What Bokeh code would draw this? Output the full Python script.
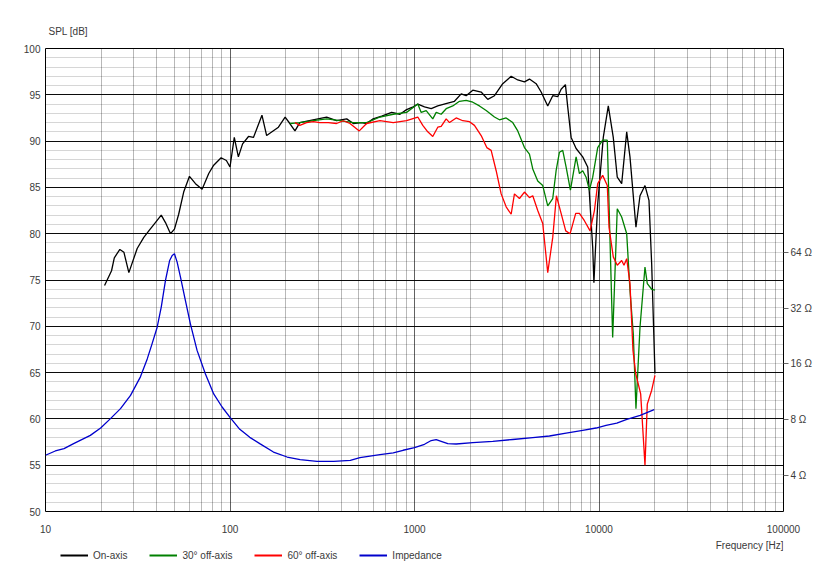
from bokeh.plotting import figure
from bokeh.layouts import column
from bokeh.models import (Range1d, LogScale, LogAxis, FixedTicker, SingleIntervalTicker,
                          Legend, LegendItem, Label)
from bokeh.embed import file_html
from bokeh.resources import INLINE

# ---------------- data ----------------
on_f = [20.9, 22.8, 23.6, 25.3, 26.6, 28.3, 31.4, 34.1, 36.3, 39.4,
        42.4, 44.7, 47.6, 50.0, 52.7, 56.1, 60.3, 65.0, 70.6, 76.7,
        81.6, 89.5, 95.6, 100, 105.5, 111, 117, 126, 134, 149,
        158, 183, 199, 211, 225, 239, 282, 334, 378, 429,
        466, 517, 550, 597, 664, 752, 834, 906, 984, 1042,
        1133, 1232, 1337, 1515, 1647, 1791, 1905, 2070, 2298, 2495,
        2713, 3008, 3341, 3628, 3944, 4198, 4564, 4858, 5274, 5614,
        5972, 6232, 6577, 6768, 7062, 7516, 8160, 8685, 8872, 9246,
        9385, 9562, 9840, 10550, 11230, 11950, 12560, 13270, 14130, 14720,
        15860, 16680, 17750, 18660, 19300, 20110]
on_db = [74.4, 76.0, 77.4, 78.3, 78.0, 75.8, 78.4, 79.6, 80.3, 81.2,
         82.0, 81.2, 80.0, 80.5, 82.1, 84.5, 86.2, 85.4, 84.8, 86.5,
         87.4, 88.2, 87.9, 87.2, 90.4, 88.3, 89.7, 90.5, 90.4, 92.8,
         90.6, 91.5, 92.6, 91.9, 91.1, 92.0, 92.3, 92.6, 92.2, 92.4,
         91.9, 92.0, 91.9, 92.4, 92.7, 93.1, 92.9, 93.4, 93.7, 94.0,
         93.7, 93.5, 93.8, 94.1, 94.3, 95.1, 94.9, 95.5, 95.3, 94.5,
         94.9, 96.2, 97.0, 96.6, 96.4, 96.7, 96.2, 95.3, 93.8, 94.9,
         94.8, 95.6, 96.1, 93.7, 90.4, 89.2, 88.3, 87.2, 84.3, 78.5,
         74.7, 78.2, 83.2, 90.4, 93.8, 90.4, 86.1, 85.4, 91.0, 88.3,
         80.7, 84.1, 85.2, 83.6, 76.7, 64.9]

off30_f = [211, 239, 283, 334, 394, 466, 550, 650, 767, 906,
           1042, 1087, 1157, 1256, 1311, 1395, 1485, 1612, 1753, 1905,
           2070, 2249, 2446, 2713, 2887, 3139, 3408, 3628, 3944, 4198,
           4375, 4655, 4955, 5274, 5614, 5855, 6103, 6360, 6635, 7000,
           7516, 7832, 8160, 8513, 8872, 9246, 9840, 10470, 11090, 11860,
           12560, 13270, 14130, 14720, 15340, 15860, 16680, 17750, 18270, 19300,
           20110]
off30_db = [91.9, 92.0, 92.2, 92.4, 92.2, 92.0, 92.0, 92.6, 92.9, 93.1,
            94.0, 93.1, 93.3, 92.4, 93.1, 92.9, 93.5, 93.8, 94.3, 94.4,
            94.2, 93.8, 93.3, 92.6, 92.3, 92.5, 92.0, 91.1, 89.3, 88.6,
            87.0, 85.7, 85.2, 83.0, 83.8, 86.8, 88.8, 89.0, 87.2, 84.7,
            88.3, 86.5, 86.8, 86.1, 84.7, 86.1, 89.3, 90.1, 90.1, 68.8,
            82.7, 81.8, 80.0, 73.9, 69.2, 61.1, 69.9, 76.4, 74.6, 74.0,
            73.9]

off60_f = [225, 239, 260, 283, 307, 341, 378, 411, 447, 502,
           550, 650, 767, 906, 1042, 1109, 1180, 1256, 1337, 1395,
           1485, 1548, 1682, 1827, 1986, 2113, 2298, 2465, 2603, 2771,
           2949, 3139, 3341, 3481, 3706, 3944, 4198, 4375, 4655, 4955,
           5274, 5614, 5877, 6232, 6601, 6973, 7478, 7832, 8335, 8949,
           9443, 9840, 10470, 11090, 11330, 11950, 12560, 13270, 13660, 14130,
           14720, 15280, 15810, 16820, 17750, 18270, 19300, 20110]
off60_db = [92.0, 91.7, 92.0, 92.1, 92.0, 92.0, 91.9, 92.2, 91.9, 91.1,
            91.9, 92.2, 92.0, 92.2, 92.6, 91.7, 91.0, 90.5, 91.5, 91.6,
            92.4, 92.0, 92.5, 92.2, 92.1, 91.7, 90.6, 89.3, 89.0, 86.8,
            84.3, 82.9, 82.1, 84.3, 83.8, 84.5, 83.9, 84.1, 82.5, 81.1,
            75.8, 79.6, 84.1, 82.2, 80.3, 80.0, 82.2, 82.2, 81.4, 80.3,
            82.5, 85.4, 86.3, 85.2, 80.7, 77.5, 76.6, 77.1, 76.6, 77.3,
            74.6, 67.4, 64.9, 62.7, 55.0, 61.6, 63.1, 64.7]

imp_f = [10, 11.3, 12.6, 14.2, 17.5, 19.9, 22.5, 25.5, 28.9, 32.7,
         35.6, 37.8, 40.3, 42.4, 44.7, 47.1, 48.6, 50.0, 51.7, 53.9,
         57.3, 61.0, 66.3, 73.6, 81.6, 90.6, 100, 113, 128, 145,
         172, 204, 240, 296, 365, 449, 506, 650, 767, 867,
         1000, 1133, 1232, 1311, 1395, 1515, 1682, 2070, 2656, 3408,
         4375, 5387, 6635, 8160, 9634, 10920, 12490, 14150, 16720, 19900]
imp_ohm = [5.13, 5.41, 5.57, 5.93, 6.57, 7.2, 8.09, 9.16, 10.8, 13.6,
           17.0, 20.5, 25.2, 32.4, 45.1, 57.8, 61.5, 62.8, 56.6, 47.0,
           35.2, 26.3, 18.9, 14.1, 11.0, 9.35, 8.22, 7.08, 6.41, 5.93,
           5.34, 5.02, 4.86, 4.76, 4.76, 4.82, 4.98, 5.17, 5.28, 5.46,
           5.64, 5.88, 6.16, 6.23, 6.10, 5.93, 5.90, 6.0, 6.10, 6.24,
           6.39, 6.52, 6.76, 7.0, 7.2, 7.44, 7.66, 8.02, 8.43, 9.05]

series_names = ["On-axis", "30\u00b0 off-axis", "60\u00b0 off-axis", "Impedance"]
freq_ticks = [10, 100, 1000, 10000, 100000]
freq_tick_labels = ["10", "100", "1000", "10000", "100000"]
imp_ticks = [4, 8, 16, 32, 64]
imp_tick_labels = ["4 \u03a9", "8 \u03a9", "16 \u03a9", "32 \u03a9", "64 \u03a9"]
y_title = "SPL [dB]"
x_title = "Frequency [Hz]"

# ---------------- styling / layout ----------------
SPL_MIN, SPL_MAX = 50, 100
IMP_OFFSET_DB = 41.87          # 20*log10(Z) + offset = SPL position
FONT = "Liberation Sans"
TXT = "#3a3a3a"
colors = ["#000000", "#008000", "#ff0000", "#0000cc"]
W = 819
NAN = float("nan")

p = figure(width=W, height=539, x_axis_type="log",
           x_range=Range1d(freq_ticks[0], freq_ticks[-1]),
           y_range=Range1d(SPL_MIN, SPL_MAX),
           output_backend="svg", toolbar_location=None,
           min_border_left=45, min_border_right=36,
           min_border_top=48, min_border_bottom=28)
p.outline_line_color = "black"
p.outline_line_width = 1
p.background_fill_color = "white"
p.border_fill_color = "white"

# y-axis title at top-left as the plot title
p.title.text = y_title
p.title.align = "left"
p.title.offset = 3
p.title.standoff = 24
p.title.text_font = FONT
p.title.text_font_size = "10px"
p.title.text_font_style = "normal"
p.title.text_color = TXT

z_lo = 10 ** ((SPL_MIN - IMP_OFFSET_DB) / 20)
z_hi = 10 ** ((SPL_MAX - IMP_OFFSET_DB) / 20)
p.extra_y_ranges = {"imp": Range1d(z_lo, z_hi)}
p.extra_y_scales = {"imp": LogScale()}

minor_freq = [m * d for d in freq_ticks[:-1] for m in range(2, 10)]
xax = p.xaxis[0]
xax.ticker = FixedTicker(ticks=freq_ticks, minor_ticks=minor_freq)
xax.major_label_overrides = dict(zip(freq_ticks, freq_tick_labels))
yax = p.yaxis[0]
yax.ticker = SingleIntervalTicker(interval=5, num_minor_ticks=5)

for ax in (xax, yax):
    ax.axis_line_color = None
    ax.major_tick_line_color = None
    ax.minor_tick_line_color = None
    ax.major_tick_out = 0
    ax.major_tick_in = 0
    ax.minor_tick_out = 0
    ax.minor_tick_in = 0
    ax.major_label_text_font = FONT
    ax.major_label_text_font_size = "10px"
    ax.major_label_text_color = TXT
xax.major_label_standoff = 13
yax.major_label_standoff = 5

p.xgrid.grid_line_color = "black"
p.xgrid.grid_line_alpha = 0.62
p.xgrid.minor_grid_line_color = "black"
p.xgrid.minor_grid_line_alpha = 0.28
p.ygrid.grid_line_color = "black"
p.ygrid.grid_line_alpha = 0.95
p.ygrid.minor_grid_line_color = "black"
p.ygrid.minor_grid_line_alpha = 0.16

rax = LogAxis(y_range_name="imp", ticker=FixedTicker(ticks=imp_ticks),
              major_label_overrides=dict(zip(imp_ticks, imp_tick_labels)))
rax.axis_line_color = None
rax.minor_tick_line_color = None
rax.major_tick_in = 0
rax.major_tick_out = 5
rax.major_tick_line_color = "#666666"
rax.major_label_standoff = 2
rax.major_label_text_font = FONT
rax.major_label_text_font_size = "10px"
rax.major_label_text_color = TXT
p.add_layout(rax, "right")

# curves
p.line(on_f, on_db, line_color=colors[0], line_width=1.3)
p.line(off30_f, off30_db, line_color=colors[1], line_width=1.3)
p.line(off60_f, off60_db, line_color=colors[2], line_width=1.3)
p.line(imp_f, imp_ohm, line_color=colors[3], line_width=1.3, y_range_name="imp")

# ---------------- strip below the chart: x title + legend ----------------
leg = figure(width=W, height=44, output_backend="svg", toolbar_location=None,
             x_range=Range1d(0, 1), y_range=Range1d(0, 1),
             x_axis_location=None, y_axis_location=None, min_border=0)
leg.grid.visible = False
leg.outline_line_color = None
leg.background_fill_color = "white"
leg.border_fill_color = "white"

leg.add_layout(Label(x=1, y=1, x_offset=0, y_offset=0, text=x_title,
                     text_align="right", text_baseline="top",
                     text_font=FONT, text_font_size="10px", text_color=TXT))

items = []
for name, c in zip(series_names, colors):
    r = leg.line([NAN], [NAN], line_color=c, line_width=2)
    items.append(LegendItem(label=name, renderers=[r]))
legend = Legend(items=items, orientation="horizontal", location=(15, 22),
                padding=0, margin=0, spacing=22, glyph_width=28, glyph_height=12,
                label_height=12, label_standoff=5, border_line_color=None,
                background_fill_alpha=0, label_text_font=FONT,
                label_text_font_size="10px", label_text_color=TXT)
leg.add_layout(legend)

layout = column(p, leg)
open("out.html", "w").write(file_html(layout, INLINE))
